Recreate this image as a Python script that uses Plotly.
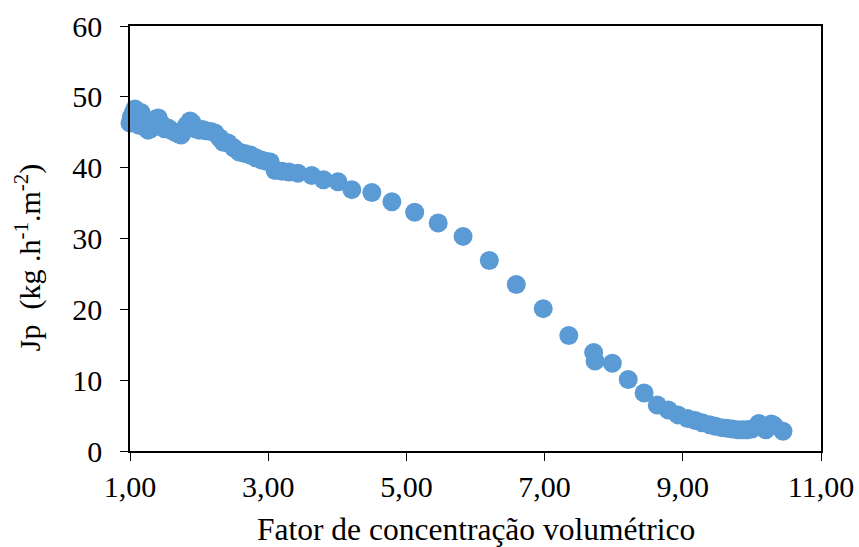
import plotly.graph_objects as go

fcv = [1.00, 1.02, 1.05, 1.07, 1.10, 1.13, 1.16, 1.19, 1.22, 1.26, 1.30, 1.35, 1.38, 1.41,
       1.45, 1.50, 1.55, 1.59, 1.65, 1.70, 1.74, 1.78, 1.82, 1.87, 1.90, 1.95, 2.00, 2.05,
       2.10, 2.17, 2.23, 2.30, 2.35, 2.42, 2.50, 2.58, 2.66, 2.74, 2.82, 2.90, 2.97, 3.03,
       3.10, 3.20, 3.30, 3.43, 3.63, 3.80, 4.01, 4.21, 4.50, 4.79, 5.12, 5.46, 5.82, 6.20,
       6.59, 6.98, 7.35, 7.71, 7.73, 7.98, 8.21, 8.44, 8.63, 8.79, 8.93, 9.07, 9.18, 9.28,
       9.39, 9.47, 9.56, 9.64, 9.72, 9.80, 9.87, 9.93, 10.00, 10.10, 10.20, 10.28, 10.32, 10.45]
jp = [46.3, 47.2, 47.8, 48.3, 47.0, 46.0, 47.8, 46.5, 45.7, 45.3, 45.5, 46.3, 46.9, 47.0,
      46.2, 45.5, 45.6, 45.3, 45.0, 44.8, 44.6, 45.2, 46.0, 46.6, 46.3, 45.5, 45.3, 45.4,
      45.2, 45.1, 44.9, 44.2, 43.6, 43.5, 42.8, 42.2, 42.0, 41.8, 41.4, 41.1, 40.9, 40.8,
      39.6, 39.5, 39.4, 39.2, 38.9, 38.3, 38.0, 36.9, 36.5, 35.2, 33.7, 32.2, 30.3, 26.9,
      23.5, 20.1, 16.3, 13.9, 12.7, 12.4, 10.1, 8.2, 6.5, 5.8, 5.1, 4.6, 4.3, 4.0,
      3.7, 3.5, 3.3, 3.2, 3.1, 3.0, 3.0, 3.0, 3.1, 3.9, 3.0, 3.8, 3.6, 2.8]

x_tickvals = [1, 3, 5, 7, 9, 11]
x_ticktext = ["1,00", "3,00", "5,00", "7,00", "9,00", "11,00"]
y_tickvals = [0, 10, 20, 30, 40, 50, 60]

x_title = "Fator de concentração volumétrico"
y_title = "Jp\u00a0 (kg .h<sup>-1</sup>.m<sup>-2</sup>)"

FONT = "Liberation Serif, Times New Roman, serif"
FS = 30

fig = go.Figure()
fig.add_trace(go.Scatter(
    x=fcv, y=jp, mode="markers",
    marker=dict(size=19, color="#5B9BD5", line=dict(width=0)),
    cliponaxis=False, showlegend=False,
))

fig.update_layout(
    width=859, height=547,
    margin=dict(l=130, r=38, t=26, b=96),
    paper_bgcolor="white", plot_bgcolor="white",
    font=dict(family=FONT, size=FS, color="black"),
    xaxis=dict(
        range=[1, 11], tickvals=x_tickvals, ticktext=x_ticktext,
        showgrid=False, zeroline=False, automargin=False,
        showline=True, linecolor="black", linewidth=1.5, mirror=True,
        ticks="outside", ticklen=8, tickwidth=1.3, tickcolor="black",
        tickfont=dict(family=FONT, size=FS),
    ),
    yaxis=dict(
        range=[0, 60], tickvals=y_tickvals,
        showgrid=False, zeroline=False, automargin=False,
        showline=True, linecolor="black", linewidth=1.5, mirror=True,
        ticks="outside", ticklen=8, tickwidth=1.3, tickcolor="black",
        tickfont=dict(family=FONT, size=FS), ticklabelstandoff=12,
    ),
    annotations=[
        dict(text=x_title, xref="paper", yref="paper", x=0.5, y=-0.185,
             xanchor="center", yanchor="middle", showarrow=False,
             font=dict(family=FONT, size=31.5)),
        dict(text=y_title, xref="paper", yref="paper", x=-0.1476, y=0.456,
             xanchor="center", yanchor="middle", textangle=-90, showarrow=False,
             font=dict(family=FONT, size=FS)),
    ],
)

fig.write_html("out.html")
